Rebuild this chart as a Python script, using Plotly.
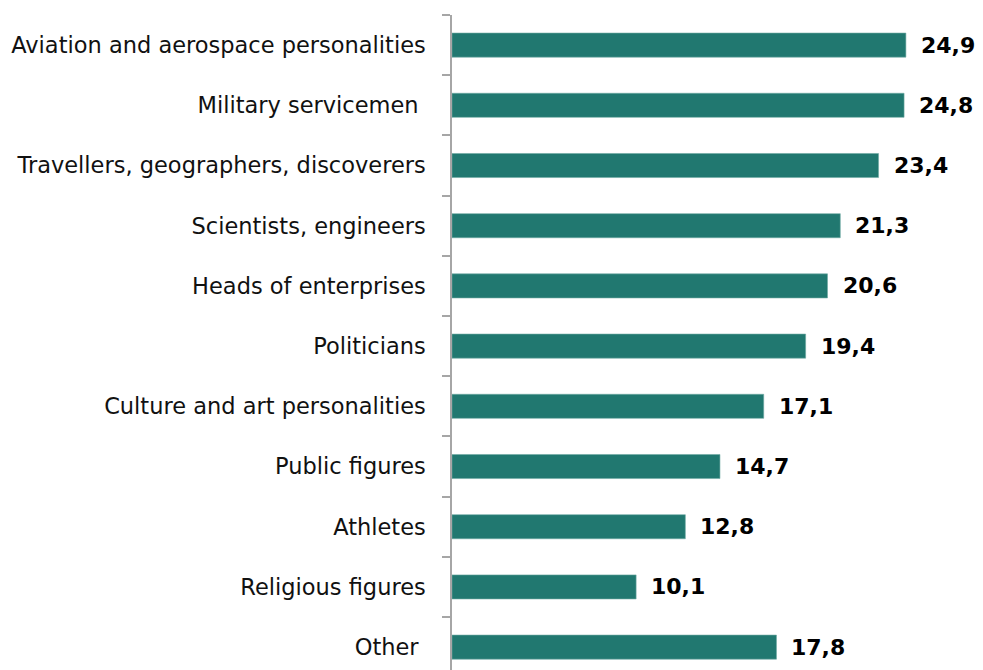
import plotly.graph_objects as go

categories = [
    "Aviation and aerospace personalities",
    "Military servicemen\u00a0",
    "Travellers, geographers, discoverers",
    "Scientists, engineers",
    "Heads of enterprises",
    "Politicians",
    "Culture and art personalities",
    "Public figures",
    "Athletes",
    "Religious figures",
    "Other\u00a0",
]
values = [24.9, 24.8, 23.4, 21.3, 20.6, 19.4, 17.1, 14.7, 12.8, 10.1, 17.8]

bar_color = "#217870"

fig = go.Figure()
fig.add_trace(go.Bar(
    x=values,
    y=categories,
    orientation="h",
    marker=dict(color=bar_color, line=dict(color="#6fa9a3", width=0.6)),
    width=0.4,
    hoverinfo="x+y",
))

for cat, val in zip(categories, values):
    fig.add_annotation(
        x=val, y=cat,
        text="<b>" + f"{val:.1f}".replace(".", ",") + "</b>",
        showarrow=False,
        xanchor="left",
        xshift=13,
        font=dict(family="DejaVu Sans, sans-serif", size=22, color="#000000"),
    )

fig.update_layout(
    width=975,
    height=662,
    margin=dict(l=444, r=0, t=7, b=0),
    paper_bgcolor="white",
    plot_bgcolor="white",
    showlegend=False,
    font=dict(family="DejaVu Sans, sans-serif", size=22.5, color="#111111"),
    xaxis=dict(
        range=[0, 29.13],
        visible=False,
        showgrid=False,
        zeroline=False,
    ),
    yaxis=dict(
        type="category",
        range=[10.38, -0.5],
        showline=True,
        linecolor="#a6a6a6",
        linewidth=1.5,
        ticks="outside",
        tickson="boundaries",
        ticklen=8,
        tickcolor="#a6a6a6",
        tickwidth=1.5,
        ticklabelstandoff=20,
        showgrid=False,
        zeroline=False,
    ),
)

fig.write_html("out.html")
